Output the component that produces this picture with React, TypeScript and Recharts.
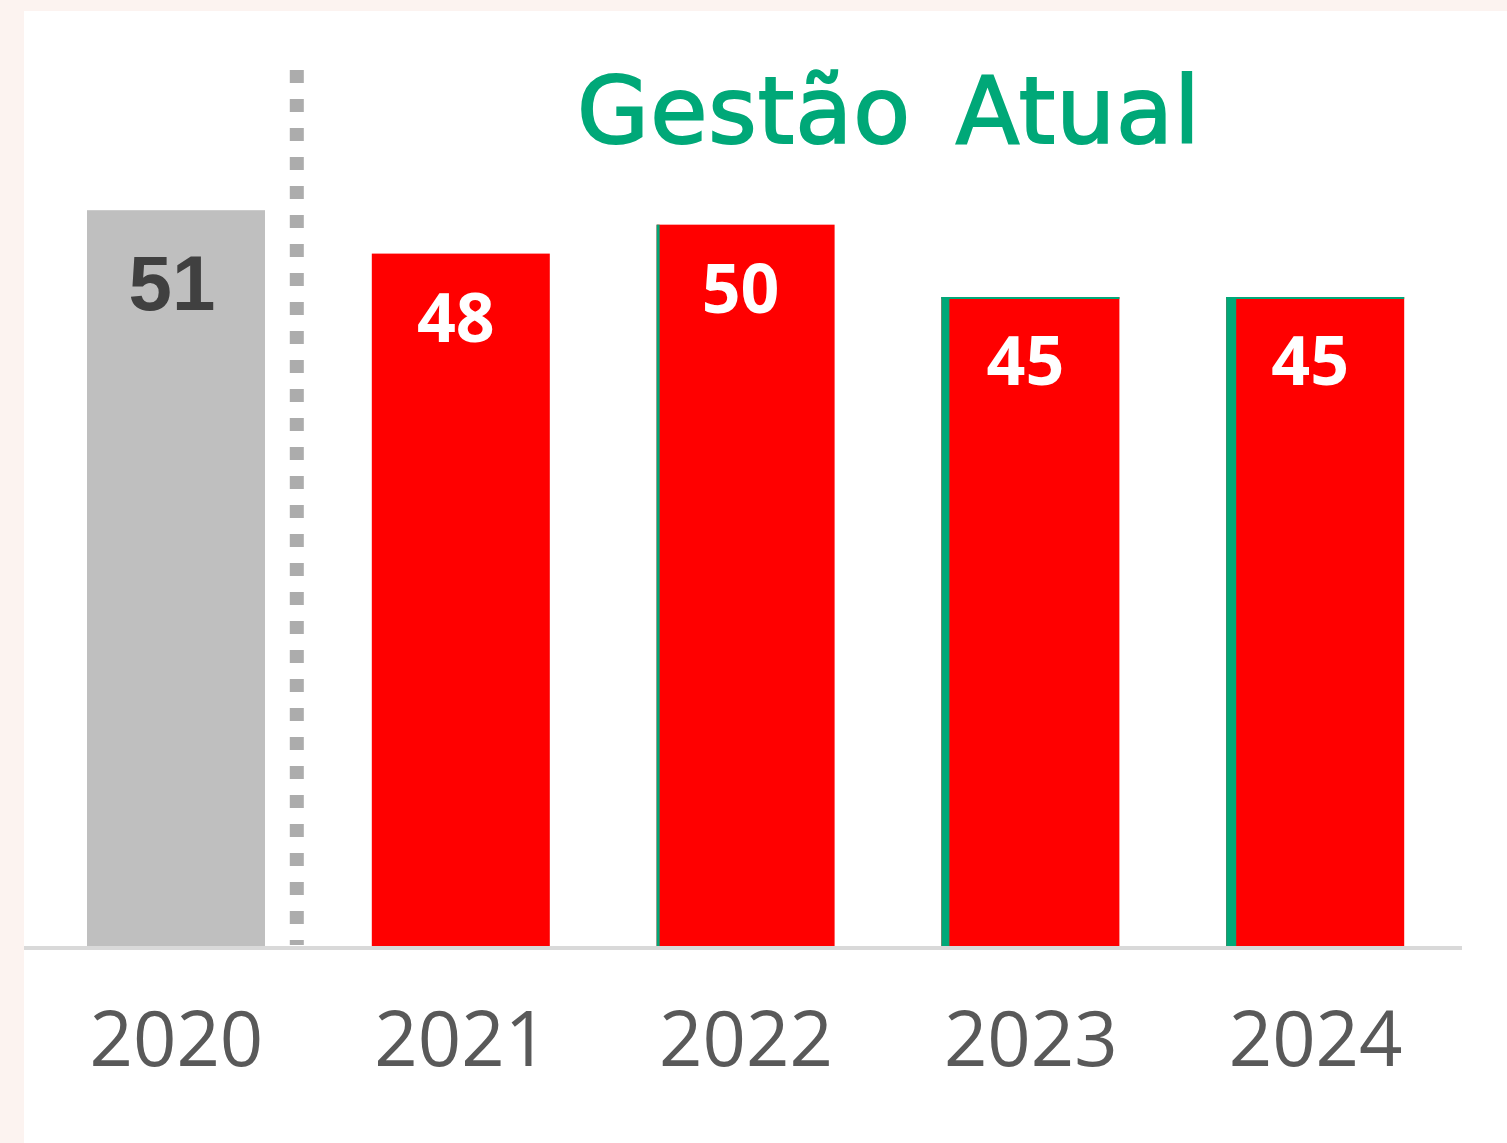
import React from 'react'
import { BarChart, Bar, XAxis, YAxis, ReferenceLine, LabelList } from 'recharts'

const years = ['2020', '2021', '2022', '2023', '2024']
const scores = [51, 48, 50, 45, 45]
const title = 'Gestão Atual'

// styling per bar (gray = previous term, red = current term)
const barColors = ['#bfbfbf', '#ff0000', '#ff0000', '#ff0000', '#ff0000']
const edgeLeft = [0, 0, 3, 8, 10]
const edgeTop = [0, 0, 0, 2, 2]
const GREEN = '#00a878'

const data = years.map((year, i) => ({ year, score: scores[i] }))

const BarShape = (props: any) => {
  const { x, y, width, height, payload } = props
  const i = years.indexOf(payload.year)
  return (
    <g>
      <rect x={x} y={y} width={width} height={height} fill={barColors[i]} />
      {edgeLeft[i] > 0 && (
        <rect x={x} y={y} width={edgeLeft[i]} height={height} fill={GREEN} />
      )}
      {edgeTop[i] > 0 && <rect x={x} y={y} width={width} height={edgeTop[i]} fill={GREEN} />}
    </g>
  )
}

const ValueLabel = (props: any) => {
  const { x, y, width, value, index } = props
  const first = index === 0
  return (
    <text
      x={x + width / 2 - (first ? 4 : 5)}
      y={y + (first ? 100 : 88)}
      textAnchor="middle"
      fill={first ? '#404040' : '#ffffff'}
      fontFamily={first ? 'Liberation Sans, Arial' : 'Open Sans, Noto Sans'}
      fontWeight="bold"
      fontSize={first ? 78 : 68}
    >
      {value}
    </text>
  )
}

const Divider = (props: any) => {
  const { x1, y1, y2 } = props
  const top = Math.min(y1, y2)
  const bottom = Math.max(y1, y2)
  return (
    <line
      x1={x1 - 22}
      x2={x1 - 22}
      y1={top - 10}
      y2={bottom - 3}
      stroke="#acacac"
      strokeWidth={14}
      strokeDasharray="13 16"
    />
  )
}

export default function App() {
  return (
    <div style={{ position: 'absolute', left: 0, top: 0, width: 1507, height: 1143, background: '#fcf3f0' }}>
      <div style={{ position: 'absolute', left: 24, top: 11, width: 1483, height: 1132, background: '#ffffff' }}>
        <BarChart
          width={1483}
          height={1132}
          data={data}
          margin={{ top: 69, right: 45, bottom: 0, left: 0 }}
          barSize={178}
        >
          <XAxis
            dataKey="year"
            height={195}
            padding={{ left: 10, right: 4 }}
            axisLine={{ stroke: '#d9d9d9', strokeWidth: 4 }}
            tickLine={false}
            tickSize={0}
            tickMargin={64}
            tick={{ fill: '#595959', fontSize: 76, fontFamily: 'Open Sans, Noto Sans' }}
          />
          <YAxis hide domain={[0, 60]} />
          <ReferenceLine x="2020" position="end" shape={Divider} />
          <Bar dataKey="score" shape={BarShape} isAnimationActive={false}>
            <LabelList dataKey="score" content={ValueLabel} />
          </Bar>
        </BarChart>
        <svg style={{ position: 'absolute', left: 0, top: 0 }} width={1483} height={200}>
          <text
            x={865}
            y={132}
            textAnchor="middle"
            fill={GREEN}
            stroke={GREEN}
            strokeWidth={2}
            fontFamily="DejaVu Sans, Verdana"
            fontSize={93}
            letterSpacing={1}
            wordSpacing={14}
          >
            {title}
          </text>
        </svg>
      </div>
    </div>
  )
}
